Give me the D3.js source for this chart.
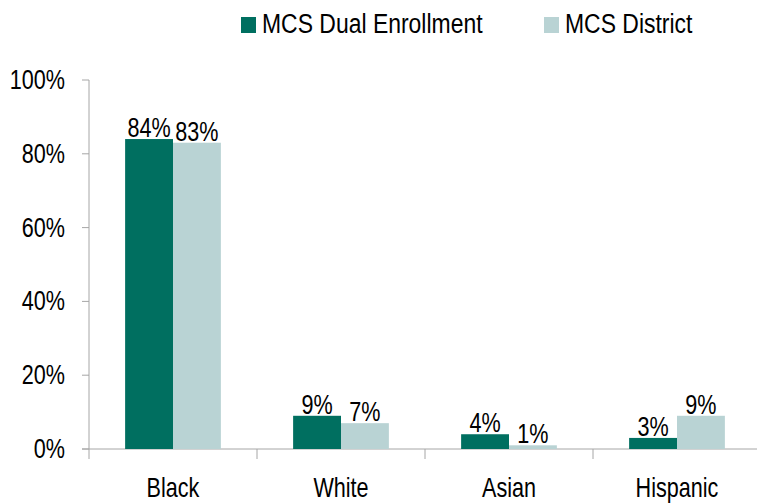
<!DOCTYPE html>
<html>
<head>
<meta charset="utf-8" />
<title>MCS Enrollment by Race</title>
<script src="https://d3js.org/d3.v7.min.js"></script>
<style>
body { margin: 0; background: #fff; }
svg { display: block; }
text { font-family: "Liberation Sans", Arial, sans-serif; fill: #000; font-size: 27px; }
</style>
</head>
<body>
<div id="chart"></div>
<script>
// data
var categories = ["Black", "White", "Asian", "Hispanic"];
var series = ["MCS Dual Enrollment", "MCS District"];
var dualValues = [84, 9, 4, 3];
var districtValues = [83, 7, 1, 9];
var yTicks = [0, 20, 40, 60, 80, 100];
var colors = ["#006f60", "#b9d3d4"];

var width = 757, height = 503;
var plotLeft = 89, plotTop = 80, plotBottom = 449;
var squeeze = 0.8; // reference font is a condensed face

var svg = d3.select("#chart").append("svg")
    .attr("width", width).attr("height", height);

var x = d3.scaleBand().domain(categories)
    .range([plotLeft, plotLeft + 4 * 168])
    .paddingInner(0.43).paddingOuter(0.215);
var x1 = d3.scaleBand().domain(series).range([0, x.bandwidth()]);
var y = d3.scaleLinear().domain([0, 100]).range([plotBottom, plotTop]);

var rows = categories.map(function(c, i) {
    return { cat: c, vals: [dualValues[i], districtValues[i]] };
});

// narrow text: placed with translate, squeezed horizontally
function label(sel, px, py, sx) {
    return sel.attr("transform", function(d, i) {
        var a = typeof px === "function" ? px(d, i) : px;
        var b = typeof py === "function" ? py(d, i) : py;
        return "translate(" + a + "," + b + ") scale(" + (sx || squeeze) + ",1)";
    });
}

// y axis
var yAxis = svg.append("g").attr("transform", "translate(" + plotLeft + ",0)");
yAxis.append("line").attr("x1", 0).attr("x2", 0).attr("y1", plotTop).attr("y2", plotBottom + 10)
    .attr("stroke", "#a6a6a6");
yAxis.selectAll(".tick").data(yTicks).enter().append("line")
    .attr("x1", -7).attr("x2", 0)
    .attr("y1", function(d) { return y(d); }).attr("y2", function(d) { return y(d); })
    .attr("stroke", "#a6a6a6");
label(svg.append("g").selectAll("text").data(yTicks).enter().append("text")
    .attr("text-anchor", "end")
    .text(function(d) { return d + "%"; }),
    65, function(d) { return y(d) + 9; });

// x axis line + separators between categories
svg.append("line").attr("x1", plotLeft - 7).attr("x2", width).attr("y1", plotBottom).attr("y2", plotBottom)
    .attr("stroke", "#a6a6a6");
svg.append("g").selectAll("line")
    .data(categories.slice(1))
    .enter().append("line")
    .attr("x1", function(d) { return x(d) - x.step() * x.paddingInner() / 2; })
    .attr("x2", function(d) { return x(d) - x.step() * x.paddingInner() / 2; })
    .attr("y1", plotBottom).attr("y2", plotBottom + 10)
    .attr("stroke", "#a6a6a6");

label(svg.append("g").selectAll("text")
    .data(categories)
    .enter().append("text")
    .attr("text-anchor", "middle")
    .text(function(d) { return d; }),
    function(d) { return x(d) + x.bandwidth() / 2; }, 497);

// bars
var groups = svg.append("g").selectAll("g")
    .data(rows)
    .enter().append("g")
    .attr("transform", function(d) { return "translate(" + x(d.cat) + ",0)"; });

groups.selectAll("rect")
    .data(function(d) { return d.vals.map(function(v, i) { return { s: series[i], v: v, i: i }; }); })
    .enter().append("rect")
    .attr("x", function(d) { return x1(d.s); })
    .attr("y", function(d) { return y(d.v); })
    .attr("width", x1.bandwidth())
    .attr("height", function(d) { return plotBottom - y(d.v); })
    .attr("fill", function(d) { return colors[d.i]; });

label(groups.selectAll("text")
    .data(function(d) { return d.vals.map(function(v, i) { return { s: series[i], v: v }; }); })
    .enter().append("text")
    .attr("text-anchor", "middle")
    .text(function(d) { return d.v + "%"; }),
    function(d) { return x1(d.s) + x1.bandwidth() / 2; },
    function(d) { return y(d.v) - 2; });

// legend
var legend = svg.append("g");
var legendX = [241, 544];
series.forEach(function(s, i) {
    legend.append("rect").attr("x", legendX[i]).attr("y", 17).attr("width", 15).attr("height", 16)
        .attr("fill", colors[i]);
    label(legend.append("text").text(s), legendX[i] + 21, 33, 0.85);
});
</script>
</body>
</html>
